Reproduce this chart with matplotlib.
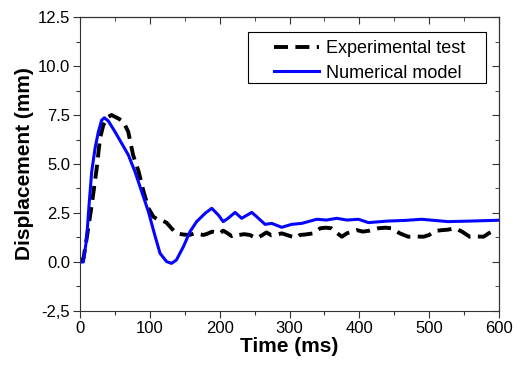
import matplotlib
matplotlib.use("Agg")
import matplotlib.pyplot as plt
from matplotlib.patches import Rectangle

plt.rcParams["font.family"] = ["Liberation Sans", "DejaVu Sans"]

# Experimental test (black dashed)
exp_t = [0, 5, 9.5, 16.7, 23.9, 28.6, 33.4, 40.6, 45.3, 50, 56, 62, 69, 76, 84, 91,
         98, 105, 110, 117, 124, 131, 138, 148, 157, 164, 170, 177, 183, 189, 195,
         200, 205, 212, 217, 222, 228, 235, 243, 253, 260, 267, 274, 281, 289, 296,
         303, 310, 315, 322, 334, 344, 352, 360, 367, 375, 382, 389, 396, 405, 415,
         427, 437, 446, 458, 470, 481, 492, 500, 508, 517, 527, 537, 547, 558, 568,
         578, 585, 590]
exp_d = [0.0, 0.2, 1.2, 2.9, 4.78, 6.31, 6.99, 7.41, 7.5, 7.41, 7.3, 7.16, 6.65, 5.46,
         4.6, 3.59, 2.74, 2.31, 2.2, 2.14, 2.0, 1.72, 1.46, 1.40, 1.38, 1.46, 1.42,
         1.38, 1.45, 1.55, 1.5, 1.45, 1.6, 1.45, 1.32, 1.41, 1.38, 1.42, 1.38, 1.21,
         1.35, 1.51, 1.36, 1.4, 1.46, 1.38, 1.3, 1.24, 1.38, 1.4, 1.46, 1.72, 1.75,
         1.72, 1.5, 1.29, 1.46, 1.55, 1.63, 1.55, 1.6, 1.72, 1.75, 1.72, 1.46, 1.29,
         1.3, 1.29, 1.38, 1.58, 1.62, 1.65, 1.72, 1.55, 1.29, 1.3, 1.29, 1.46, 1.55]

# Numerical model (blue solid)
num_t = [0, 4.8, 9.5, 12.9, 16.7, 21.5, 26.3, 31, 34.9, 40.6, 50, 59.7, 69.2, 78.8,
         88.3, 97.9, 107, 114.6, 124, 131, 138, 148, 157.5, 167, 179, 188.6, 198,
         205, 212, 222, 231.5, 245.9, 253, 265, 274.5, 288.8, 303, 317.5, 339, 353,
         367.6, 382, 398.6, 413, 441.5, 465, 489, 527, 561, 599]
num_d = [0.0, 0.0, 1.2, 2.9, 4.6, 5.8, 6.65, 7.24, 7.36, 7.19, 6.65, 6.05, 5.46, 4.6,
         3.59, 2.57, 1.38, 0.44, 0.02, -0.07, 0.1, 0.78, 1.55, 2.06, 2.48, 2.74, 2.4,
         2.06, 2.23, 2.53, 2.23, 2.53, 2.31, 1.92, 1.97, 1.77, 1.92, 1.97, 2.18, 2.14,
         2.23, 2.14, 2.18, 2.01, 2.09, 2.12, 2.18, 2.06, 2.09, 2.13]

x_major = list(range(0, 601, 100))
x_minor = list(range(50, 600, 100))
y_major = [-2.5, 0, 2.5, 5, 7.5, 10, 12.5]
y_minor = [-1.25, 1.25, 3.75, 6.25, 8.75, 11.25]
y_labels = ["-2,5", "0.0", "2.5", "5.0", "7.5", "10.0", "12.5"]

fig = plt.figure(figsize=(5.21, 3.70), dpi=100)
ax = fig.add_axes([0.1536, 0.1595, 0.8042, 0.7945])

ax.plot(exp_t, exp_d, color="black", lw=2.8, ls=(0, (3.6, 1.9)), label="Experimental test")
ax.plot(num_t, num_d, color="#0505ff", lw=2.2, label="Numerical model")

ax.set_xlim(0, 600)
ax.set_ylim(-2.5, 12.5)
ax.set_xticks(x_major)
ax.set_xticks(x_minor, minor=True)
ax.set_yticks(y_major)
ax.set_yticks(y_minor, minor=True)
ax.set_yticklabels(y_labels)
ax.tick_params(which="both", direction="out", labelsize=12, width=0.8, colors="#333333",
               labelcolor="black", pad=2)
ax.tick_params(which="major", length=5)
ax.tick_params(which="minor", length=3)

# inward ticks on the top and right frame
top = ax.secondary_xaxis("top")
top.set_xticks(x_major)
top.set_xticks(x_minor, minor=True)
top.tick_params(which="both", direction="in", labeltop=False, colors="#333333")
top.tick_params(which="major", length=5)
top.tick_params(which="minor", length=3)
right = ax.secondary_yaxis("right")
right.set_yticks(y_major)
right.set_yticks(y_minor, minor=True)
right.tick_params(which="both", direction="in", labelright=False, colors="#333333")
right.tick_params(which="major", length=5)
right.tick_params(which="minor", length=3)

for s in ax.spines.values():
    s.set_color("#333333")

ax.set_xlabel("Time (ms)", fontsize=15, fontweight="bold", labelpad=1)
ax.set_ylabel("Displacement (mm)", fontsize=15, fontweight="bold", labelpad=3)

# legend without frame, frame drawn by hand to get the wide left margin
leg = ax.legend(loc="upper left", bbox_to_anchor=(0.462, 0.922), fontsize=13,
                frameon=False, handlelength=2.5, handletextpad=0.4, borderpad=0,
                borderaxespad=0, labelspacing=0.42)
ax.add_patch(Rectangle((0.401, 0.776), 0.568, 0.173, transform=ax.transAxes,
                       fill=False, edgecolor="black", lw=0.8, zorder=5))

fig.savefig("out.png", dpi=100)
